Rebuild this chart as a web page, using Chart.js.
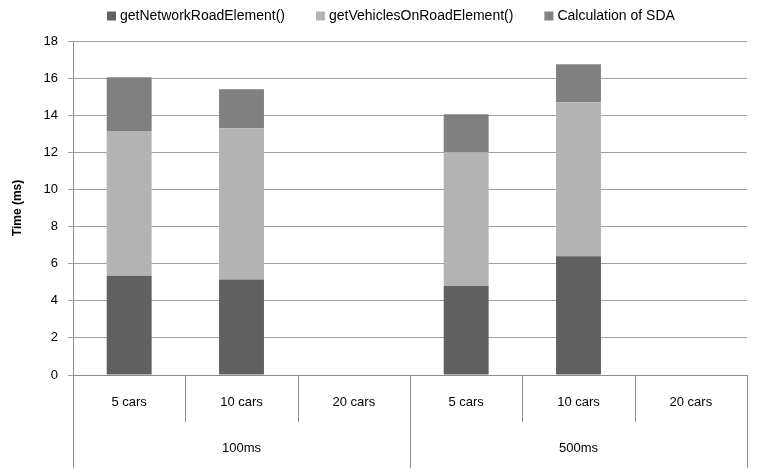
<!DOCTYPE html>
<html>
<head>
<meta charset="utf-8">
<script src="https://cdn.jsdelivr.net/npm/chart.js@4"></script>
<style>
  html, body { margin: 0; padding: 0; background: #fff; }
  #wrap { width: 765px; height: 472px; }
</style>
</head>
<body>
<div id="wrap"><canvas id="myChart"></canvas></div>
<script>
'use strict';

let carLabels = ['5 cars', '10 cars', '20 cars', '5 cars', '10 cars', '20 cars'];
let groupLabels = ['100ms', '500ms'];
let groupSize = 3;
let networkVals = [5.35, 5.15, null, 4.8, 6.4, null];
let vehiclesVals = [7.8, 8.15, null, 7.2, 8.3, null];
let sdaVals = [2.9, 2.1, null, 2.05, 2.05, null];
let yTicks = [0, 2, 4, 6, 8, 10, 12, 14, 16, 18];

let fontFam = "'Liberation Sans', Arial, sans-serif";
let lineCol = '#8c8c8c';

// two-level category axis under the plot
let groupAxis = {
    id: 'groupAxis',
    afterDraw(chart) {
        let ctx = chart.ctx;
        let xs = chart.scales.x;
        let area = chart.chartArea;
        let step = xs.getPixelForValue(1) - xs.getPixelForValue(0);
        let bottom = chart.height - 4;
        ctx.save();
        ctx.strokeStyle = lineCol;
        ctx.lineWidth = 1;
        for (let i = 0; i <= carLabels.length; i++) {
            let x = Math.round(xs.getPixelForValue(0) - step / 2 + i * step) + 0.5;
            let isGroupEdge = i % groupSize === 0;
            ctx.beginPath();
            ctx.moveTo(x, area.bottom);
            ctx.lineTo(x, isGroupEdge ? bottom : area.bottom + 47);
            ctx.stroke();
        }
        ctx.fillStyle = '#000';
        ctx.font = '13px ' + fontFam;
        ctx.textAlign = 'center';
        ctx.textBaseline = 'middle';
        for (let g = 0; g < groupLabels.length; g++) {
            let x0 = xs.getPixelForValue(g * groupSize);
            let x1 = xs.getPixelForValue(g * groupSize + groupSize - 1);
            ctx.fillText(groupLabels[g], (x0 + x1) / 2, area.bottom + 73);
        }
        ctx.restore();
    }
};

// legend drawn by hand so its spacing matches
let topLegend = {
    id: 'topLegend',
    afterDraw(chart) {
        let ctx = chart.ctx;
        ctx.save();
        ctx.font = '14px ' + fontFam;
        ctx.textBaseline = 'middle';
        ctx.textAlign = 'left';
        let x = chart.chartArea.left + 34;
        let y = 16;
        chart.data.datasets.forEach(ds => {
            ctx.fillStyle = ds.backgroundColor;
            ctx.fillRect(x, y - 4.5, 9, 9);
            ctx.fillStyle = '#000';
            ctx.fillText(ds.label, x + 13, y);
            x += 13 + ctx.measureText(ds.label).width + 31;
        });
        ctx.restore();
    }
};

let ctx = document.getElementById('myChart').getContext('2d');
let myChart = new Chart(ctx, {
    type: 'bar',
    data: {
        labels: carLabels,
        datasets: [{
            label: 'getNetworkRoadElement()',
            data: networkVals,
            backgroundColor: '#606060'
        },
        {
            label: 'getVehiclesOnRoadElement()',
            data: vehiclesVals,
            backgroundColor: '#b3b3b3'
        },
        {
            label: 'Calculation of SDA',
            data: sdaVals,
            backgroundColor: '#808080'
        }]
    },
    options: {
        responsive: true,
        maintainAspectRatio: false,
        animation: false,
        layout: { padding: { top: 41, right: 18, left: 0, bottom: 0 } },
        datasets: { bar: { barPercentage: 0.4, categoryPercentage: 1 } },
        plugins: {
            legend: { display: false },
            tooltip: { enabled: false }
        },
        scales: {
            x: {
                stacked: true,
                grid: { display: false },
                border: { color: lineCol },
                ticks: {
                    color: '#000',
                    padding: 12,
                    font: { family: fontFam, size: 13 }
                },
                afterFit: function (s) { s.height = 97; }
            },
            y: {
                stacked: true,
                min: 0,
                max: 18,
                afterBuildTicks: function (s) { s.ticks = yTicks.map(v => ({ value: v })); },
                grid: { color: '#a0a0a0', tickLength: 5 },
                border: { color: lineCol },
                ticks: {
                    color: '#000',
                    padding: 10,
                    font: { family: fontFam, size: 13 }
                },
                title: {
                    display: true,
                    text: 'Time (ms)',
                    color: '#000',
                    padding: { top: 10, bottom: 4 },
                    font: { family: fontFam, size: 12, weight: 'bold' }
                },
                afterFit: function (s) { s.width = 73; }
            }
        }
    },
    plugins: [groupAxis, topLegend]
});
</script>
</body>
</html>
